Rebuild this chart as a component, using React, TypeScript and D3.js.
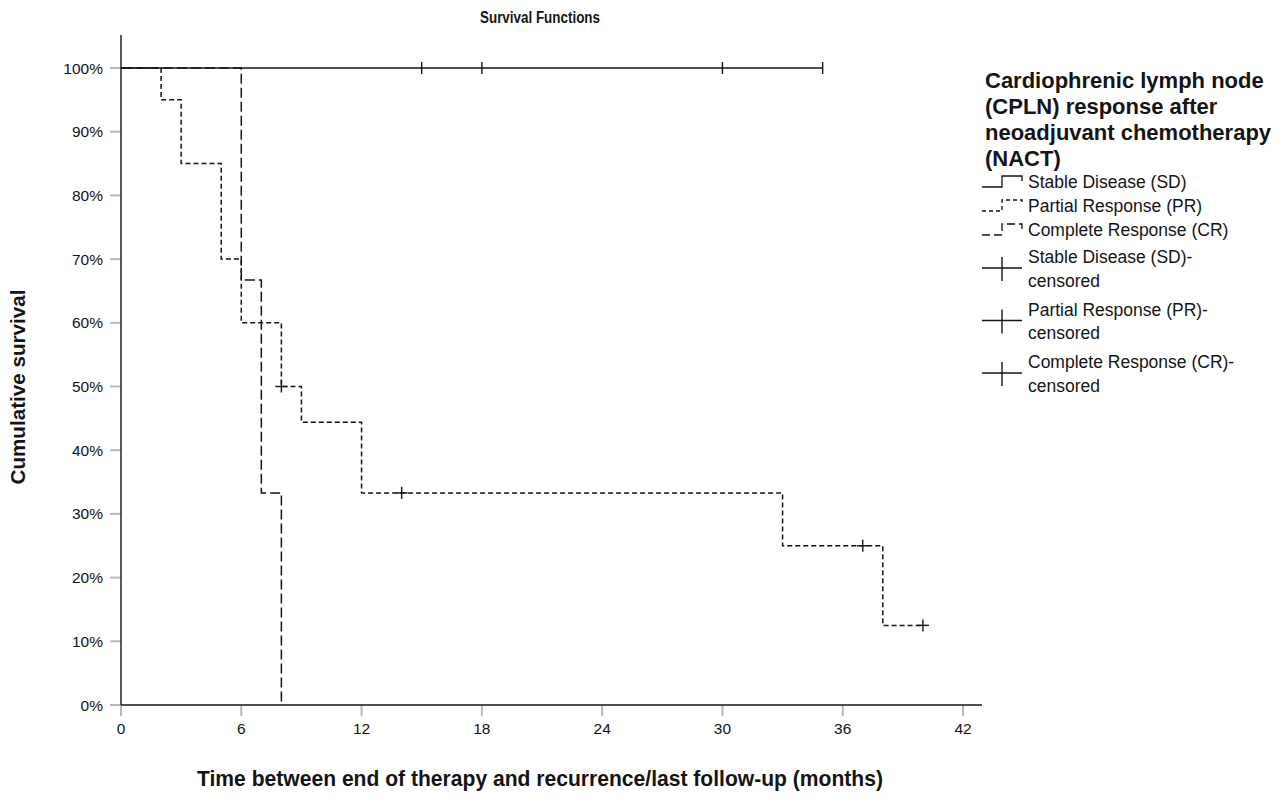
import React from "react";
import * as d3 from "d3";

const months = [0, 6, 12, 18, 24, 30, 36, 42];
const pctTicks = [0, 0.1, 0.2, 0.3, 0.4, 0.5, 0.6, 0.7, 0.8, 0.9, 1.0];

// Kaplan-Meier step points [time, survival]
const sdCurve: [number, number][] = [[0, 1], [35, 1]];
const prCurve: [number, number][] = [
  [0, 1], [2, 0.95], [3, 0.85], [5, 0.7], [6, 0.6], [8, 0.5],
  [9, 0.444], [12, 0.333], [33, 0.25], [38, 0.125], [40, 0.125],
];
const crCurve: [number, number][] = [[0, 1], [6, 0.667], [7, 0.333], [8, 0]];

// censored observations
const sdCensored: [number, number][] = [[15, 1], [18, 1], [30, 1], [35, 1]];
const prCensored: [number, number][] = [[8, 0.5], [14, 0.333], [37, 0.25], [40, 0.125]];

const legendTitle = ["Cardiophrenic lymph node", "(CPLN) response after", "neoadjuvant chemotherapy", "(NACT)"];
const lineLegend = ["Stable Disease (SD)", "Partial Response (PR)", "Complete Response (CR)"];
const censorLegend = [
  ["Stable Disease (SD)-", "censored"],
  ["Partial Response (PR)-", "censored"],
  ["Complete Response (CR)-", "censored"],
];

const W = 1283;
const H = 799;
const ink = "#141414";
const tickGray = "#b8b8b8";
const sans = "'Liberation Sans', Arial, sans-serif";

const dashes = { sd: "none", pr: "5,3", cr: "10,4" };
const iconDashes = { sd: "none", pr: "4,3", cr: "8,4" };

export default function App() {
  const x = d3.scaleLinear().domain([0, 42]).range([121, 963]);
  const y = d3.scaleLinear().domain([0, 1]).range([705, 68]);

  const step = d3
    .line<[number, number]>()
    .x((d) => x(d[0]))
    .y((d) => y(d[1]))
    .curve(d3.curveStepAfter);

  const plus = (d: [number, number], i: number, vertOnly = false) => (
    <g key={i} stroke={ink} strokeWidth={1.4}>
      {!vertOnly && <line x1={x(d[0]) - 6} x2={x(d[0]) + 6} y1={y(d[1])} y2={y(d[1])} />}
      <line x1={x(d[0])} x2={x(d[0])} y1={y(d[1]) - 6} y2={y(d[1]) + 6} />
    </g>
  );

  const lx = 985;
  const iconX = 982;

  return (
    <svg width={W} height={H} style={{ position: "absolute", left: 0, top: 0, background: "#fff" }}>
      <text x={540} y={23} textAnchor="middle" fontFamily={sans} fontWeight="bold" fontSize={16}
        textLength={120} lengthAdjust="spacingAndGlyphs" fill={ink}>
        Survival Functions
      </text>

      {/* y ticks */}
      {pctTicks.map((t) => (
        <g key={t}>
          <line x1={110} x2={121} y1={y(t)} y2={y(t)} stroke={tickGray} strokeWidth={2} />
          <text x={103} y={y(t) + 5.5} textAnchor="end" fontFamily={sans} fontSize={15.5} fill={ink}>
            {d3.format(".0%")(t)}
          </text>
        </g>
      ))}
      {/* x ticks */}
      {months.map((m) => (
        <g key={m}>
          <line x1={x(m)} x2={x(m)} y1={705} y2={716} stroke={tickGray} strokeWidth={2} />
          <text x={x(m)} y={734} textAnchor="middle" fontFamily={sans} fontSize={15.5} fill={ink}>
            {m}
          </text>
        </g>
      ))}

      {/* axes */}
      <line x1={121} x2={121} y1={35} y2={705} stroke={ink} strokeWidth={1.4} />
      <line x1={121} x2={982} y1={705} y2={705} stroke={ink} strokeWidth={1.4} />

      {/* curves */}
      <path d={step(crCurve) || ""} fill="none" stroke={ink} strokeWidth={1.5} strokeDasharray={dashes.cr} />
      <path d={step(prCurve) || ""} fill="none" stroke={ink} strokeWidth={1.5} strokeDasharray={dashes.pr} />
      <path d={step(sdCurve) || ""} fill="none" stroke={ink} strokeWidth={1.6} />
      {sdCensored.map((d, i) => plus(d, i, true))}
      {prCensored.map((d, i) => plus(d, i))}

      {/* axis titles */}
      <text
        transform="translate(25,387) rotate(-90)"
        textAnchor="middle"
        fontFamily={sans}
        fontWeight="bold"
        fontSize={21}
        textLength={195}
        lengthAdjust="spacingAndGlyphs"
        fill={ink}
      >
        Cumulative survival
      </text>
      <text x={540} y={786} textAnchor="middle" fontFamily={sans} fontWeight="bold" fontSize={22.5}
        textLength={686} lengthAdjust="spacingAndGlyphs" fill={ink}>
        Time between end of therapy and recurrence/last follow-up (months)
      </text>

      {/* legend */}
      {legendTitle.map((t, i) => (
        <text key={t} x={lx} y={88 + i * 26} fontFamily={sans} fontWeight="bold" fontSize={22} fill={ink}>
          {t}
        </text>
      ))}
      {lineLegend.map((t, i) => {
        const cy = 182 + i * 24;
        const key = i === 0 ? "sd" : i === 1 ? "pr" : "cr";
        return (
          <g key={t}>
            <path
              d={`M${iconX},${cy + 5}H${iconX + 20}V${cy - 6}H${iconX + 40}V${cy - 1}`}
              fill="none"
              stroke={ink}
              strokeWidth={1.3}
              strokeDasharray={iconDashes[key]}
            />
            <text x={1028} y={cy + 6} fontFamily={sans} fontSize={17.5} fill={ink}>
              {t}
            </text>
          </g>
        );
      })}
      {censorLegend.map((lines, i) => {
        const cy = 257 + i * 52.5;
        return (
          <g key={lines[0]}>
            <line x1={iconX} x2={iconX + 40} y1={cy + 11} y2={cy + 11} stroke={ink} strokeWidth={1.4} />
            <line x1={iconX + 20} x2={iconX + 20} y1={cy} y2={cy + 24} stroke={ink} strokeWidth={1.4} />
            {lines.map((l, j) => (
              <text key={j} x={1028} y={cy + 6 + j * 23.5} fontFamily={sans} fontSize={17.5} fill={ink}>
                {l}
              </text>
            ))}
          </g>
        );
      })}
    </svg>
  );
}
